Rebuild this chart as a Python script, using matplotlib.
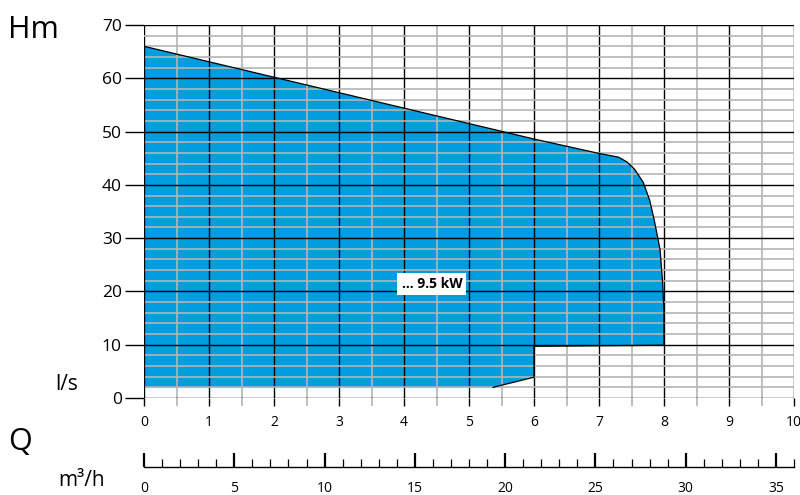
import numpy as np
import matplotlib.pyplot as plt
from matplotlib.ticker import MultipleLocator

plt.rcParams['font.family'] = ['Open Sans', 'DejaVu Sans']

# Outline of the operating field (Q in l/s, H in m)
q_field = [0.0, 2.0, 4.0, 6.0, 7.0, 7.3, 7.43, 7.55, 7.68, 7.78, 7.85, 7.94, 7.98, 8.0, 8.0, 6.0, 6.0, 5.37, 0.0]
h_field = [66.0, 60.2, 54.4, 48.6, 45.9, 45.2, 44.3, 42.9, 40.5, 37.1, 33.4, 27.8, 21.5, 16.0, 9.9, 9.7, 3.9, 2.0, 2.0]

power_label = '... 9.5 kW'
label_q, label_h = 4.43, 21.4

x_ticks = list(range(0, 11))
y_ticks = list(range(0, 71, 10))
m3h_ticks = list(range(0, 36, 5))
ls_to_m3h = 3.6

blue = '#009de0'
grey = '#b4b4b4'

fig = plt.figure(figsize=(8, 4.95), dpi=100)
ax = fig.add_axes([0.18, 1 - 398 / 495, 0.8125, (398 - 25) / 495])

ax.fill(q_field, h_field, color=blue, lw=0, zorder=1)
ax.plot(q_field[:16], h_field[:16], color='black', lw=0.9, zorder=3)
ax.plot(q_field[15:18], h_field[15:18], color='black', lw=0.9, zorder=3)
ax.plot([0, 0], [2, 66], color='black', lw=1.5, zorder=3)

ax.set_xlim(0, 10)
ax.set_ylim(0, 70)
ax.xaxis.set_major_locator(MultipleLocator(1))
ax.xaxis.set_minor_locator(MultipleLocator(0.5))
ax.yaxis.set_major_locator(MultipleLocator(10))
ax.yaxis.set_minor_locator(MultipleLocator(2))
ax.set_xticks(x_ticks)
ax.set_yticks(y_ticks)

ax.set_axisbelow(False)
ax.grid(which='minor', color=grey, lw=1.2, zorder=2)
ax.grid(which='major', color='black', lw=1.0, zorder=2.2)
for s in ax.spines.values():
    s.set_visible(False)
ax.axhline(70, color='#888888', lw=1.2, zorder=2.3)

ax.tick_params(axis='x', which='major', length=6, color='black', width=1, labelsize=10, pad=6)
ax.tick_params(axis='x', which='minor', length=6, color=grey, width=1.2)
ax.tick_params(axis='y', which='major', length=14, color='black', width=1, labelsize=12.5, pad=2)
ax.tick_params(axis='y', which='minor', length=0)

ax.text(label_q, label_h, power_label, fontsize=10, fontweight='bold', ha='center', va='center',
        bbox=dict(facecolor='white', edgecolor='none', pad=3), zorder=4)

# second flow scale in m3/h
ax2 = fig.add_axes([0.18, 1 - 467 / 495, 0.8125, 0.02])
ax2.set_xlim(0, 10 * ls_to_m3h)
ax2.set_yticks([])
ax2.patch.set_visible(False)
for k in ['top', 'left', 'right']:
    ax2.spines[k].set_visible(False)
ax2.spines['bottom'].set_linewidth(1)
ax2.set_xticks(m3h_ticks)
ax2.xaxis.set_minor_locator(MultipleLocator(1))
ax2.tick_params(axis='x', which='major', direction='in', length=10, width=1.6, labelsize=10, pad=10)
ax2.tick_params(axis='x', which='minor', direction='in', length=6, width=0.9)

fig.text(8 / 800, 1 - 30 / 495, 'Hm', fontsize=22, ha='left', va='center')
fig.text(55 / 800, 1 - 384 / 495, 'l/s', fontsize=15, ha='left', va='center')
fig.text(8 / 800, 1 - 442 / 495, 'Q', fontsize=22, ha='left', va='center')
fig.text(58 / 800, 1 - 480 / 495, 'm³/h', fontsize=15, ha='left', va='center')

fig.savefig('out.png', dpi=100)
